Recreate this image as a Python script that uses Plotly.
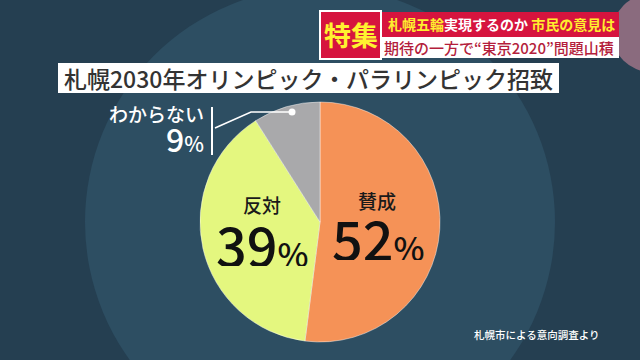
import plotly.graph_objects as go

W, H = 640, 360

# ---- data ----
labels = ["賛成", "反対", "わからない"]
values = [52, 39, 9]
colors = ["#f59257", "#e4f77f", "#a9a9ab"]
title_text = "札幌2030年オリンピック・パラリンピック招致"
header_main = ["札幌五輪", "実現するのか", "市民の意見は"]
header_sub = "期待の一方で“東京2020”問題山積"
header_tag = "特集"
source_text = "札幌市による意向調査より"

FONT = "Noto Sans CJK JP"


def px(x):
    return x / W


def py(y):
    return 1 - y / H


fig = go.Figure()

# pie centre (320,222) radius 120 px
cx, cy, r = 320, 222, 120
fig.add_trace(go.Pie(
    labels=labels, values=values, sort=False, direction="clockwise", rotation=0,
    marker=dict(colors=colors, line=dict(color="rgba(255,255,255,0.55)", width=0.8)),
    textinfo="none", hoverinfo="skip", showlegend=False,
    domain=dict(x=[px(cx - r), px(cx + r)], y=[py(cy + r), py(cy - r)]),
))

shapes = []
# halo behind pie
hr = 235
shapes.append(dict(type="circle", xref="paper", yref="paper", layer="below",
                   x0=px(cx - hr), x1=px(cx + hr), y0=py(cy + hr), y1=py(cy - hr),
                   fillcolor="#2d4e62", line=dict(width=0)))
# decorative circle top-right
shapes.append(dict(type="circle", xref="paper", yref="paper", layer="below",
                   x0=px(612), x1=px(690), y0=py(72), y1=py(-6),
                   fillcolor="#8a6b7e", line=dict(width=0)))
# title box
shapes.append(dict(type="rect", xref="paper", yref="paper", layer="below",
                   x0=px(58), x1=px(559), y0=py(93), y1=py(63),
                   fillcolor="white", line=dict(width=0)))
# header red tag
shapes.append(dict(type="rect", xref="paper", yref="paper",
                   x0=px(320), x1=px(381), y0=py(59), y1=py(11),
                   fillcolor="#d6143e", line=dict(color="white", width=2)))
# header red banner
shapes.append(dict(type="rect", xref="paper", yref="paper",
                   x0=px(382), x1=px(619), y0=py(37), y1=py(12),
                   fillcolor="#d6143e", line=dict(width=0)))
# header white banner
shapes.append(dict(type="rect", xref="paper", yref="paper",
                   x0=px(382), x1=px(619), y0=py(58), y1=py(37),
                   fillcolor="white", line=dict(width=0)))
# leader lines for small slice
shapes.append(dict(type="line", xref="paper", yref="paper",
                   x0=px(212), x1=px(212), y0=py(155), y1=py(107),
                   line=dict(color="white", width=2)))
shapes.append(dict(type="path", xref="paper", yref="paper",
                   path=f"M {px(215)} {py(128)} L {px(251)} {py(112)} L {px(292)} {py(112)}",
                   line=dict(color="white", width=1.5)))
shapes.append(dict(type="circle", xref="paper", yref="paper",
                   x0=px(288.5), x1=px(295.5), y0=py(115.5), y1=py(108.5),
                   fillcolor="white", line=dict(width=0)))

ann = []


def A(x, y, text, size, color, xanchor="center", weight="normal", **kw):
    ann.append(dict(x=px(x), y=py(y), xref="paper", yref="paper", text=text,
                    showarrow=False, xanchor=xanchor, yanchor="middle",
                    font=dict(family=FONT, size=size, color=color, weight=weight), **kw))


def pct_text(v, big, small):
    return (f"<span style='font-size:{big}px'>{v}</span>"
            f"<span style='font-size:{small}px'>%</span>")


# slice labels
A(377, 200, labels[0], 19, "#1a1a1a", weight=500, height=22)
A(378, 237, pct_text(values[0], 54, 33), 54, "#111111", weight=500, height=46)
A(262, 204, labels[1], 19, "#1a1a1a", weight=500, height=22)
A(262, 243, pct_text(values[1], 54, 33), 54, "#111111", weight=500, height=46)
A(206, 113, labels[2], 19, "white", xanchor="right", weight=500, height=22)
A(206, 138, pct_text(values[2], 32, 21), 32, "white", xanchor="right", weight=500, height=28)

# title
A(308, 78, title_text, 23, "#333333", weight=500)
# header
A(351, 35, f"<b>{header_tag}</b>", 27, "#fff230")
A(501, 24.5, (f"<b><span style='color:#ffee2e'>{header_main[0]}</span>{header_main[1]} "
              f"<span style='color:#ffee2e'>{header_main[2]}</span></b>"), 14, "white")
A(499, 47.5, header_sub, 15, "#b41e3c", weight=500)
# source
A(536, 334, source_text, 10.5, "white", weight=500)

fig.update_layout(
    width=W, height=H, margin=dict(l=0, r=0, t=0, b=0),
    paper_bgcolor="#253f51", plot_bgcolor="#253f51",
    shapes=shapes, annotations=ann, showlegend=False,
)

fig.write_html("out.html", config={"displayModeBar": False},
               post_script="document.body.style.margin='0px';document.body.style.background='#253f51';")
